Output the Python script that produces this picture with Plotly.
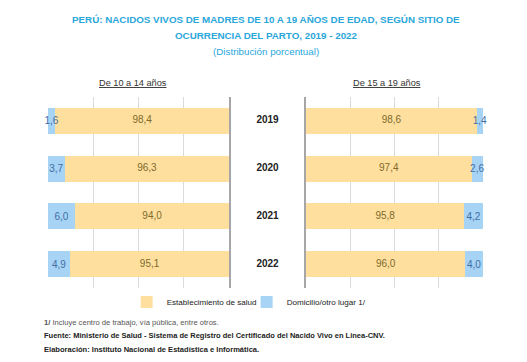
import plotly.graph_objects as go

years = ["2019", "2020", "2021", "2022"]
est_10_14 = [98.4, 96.3, 94.0, 95.1]
dom_10_14 = [1.6, 3.7, 6.0, 4.9]
est_15_19 = [98.6, 97.4, 95.8, 96.0]
dom_15_19 = [1.4, 2.6, 4.2, 4.0]
AXIS_MIN, AXIS_MAX = 60, 100

YEL = "#FFDF9E"
BLU = "#A7D3F4"
YEL_TXT = "#7D6A2C"
BLU_TXT = "#3F6FA6"
FONT = "Liberation Sans, Arial, sans-serif"

def fmt(v):
    return f"{v:.1f}".replace(".", ",")

fig = go.Figure()

def add_panel(est, dom, xa, ya, show):
    fig.add_trace(go.Bar(
        y=years, x=est, orientation="h", name="Establecimiento de salud",
        marker=dict(color=YEL, line=dict(width=0)), xaxis=xa, yaxis=ya,
        showlegend=show, legendgroup="est", hoverinfo="skip"))
    fig.add_trace(go.Bar(
        y=years, x=dom, orientation="h", name="Domicilio/otro lugar 1/",
        marker=dict(color=BLU, line=dict(width=0)), xaxis=xa, yaxis=ya,
        text=[fmt(v) for v in dom], textposition="inside", insidetextanchor="middle",
        textangle=0, textfont=dict(color=BLU_TXT, size=10, family=FONT), constraintext="none",
        showlegend=show, legendgroup="dom", hoverinfo="skip", cliponaxis=False))
    # label of the visible part of the yellow bar (centred between axis start and bar end)
    fig.add_trace(go.Scatter(
        y=years, x=[(AXIS_MIN + v) / 2 for v in est], mode="text",
        text=[fmt(v) for v in est], textposition="middle center",
        textfont=dict(color=YEL_TXT, size=10, family=FONT),
        xaxis=xa, yaxis=ya, showlegend=False, hoverinfo="skip"))

add_panel(est_10_14, dom_10_14, "x", "y", True)
add_panel(est_15_19, dom_15_19, "x2", "y2", False)

# year labels in the central column
fig.add_trace(go.Scatter(
    y=years, x=[0.5] * len(years), mode="text", text=[f"<b>{y}</b>" for y in years],
    textposition="middle center", textfont=dict(color="#222", size=10, family=FONT),
    xaxis="x3", yaxis="y3", showlegend=False, hoverinfo="skip", cliponaxis=False))

W, H = 527, 362
ydom = [1 - 288 / H, 1 - 97 / H]
axis_common = dict(dtick=10, tick0=0, showgrid=True, gridcolor="#DADADA", gridwidth=1,
                   showticklabels=False, zeroline=False, ticks="", fixedrange=True)
yax_common = dict(domain=ydom, type="category", showticklabels=False, ticks="",
                  categoryorder="array", categoryarray=years, range=[3.5, -0.5],
                  showgrid=False, fixedrange=True)
fig.update_layout(
    xaxis=dict(domain=[48 / W, 229 / W], range=[AXIS_MAX, AXIS_MIN], **axis_common),
    xaxis2=dict(domain=[306 / W, 483 / W], range=[AXIS_MIN, AXIS_MAX], **axis_common),
    xaxis3=dict(domain=[229 / W, 306 / W], range=[0, 1], visible=False, fixedrange=True),
    yaxis=dict(anchor="x", side="right", showline=True, linecolor="#A6A6A6", linewidth=1.5, **yax_common),
    yaxis2=dict(anchor="x2", side="left", showline=True, linecolor="#A6A6A6", linewidth=1.5, **yax_common),
    yaxis3=dict(anchor="x3", visible=False, **yax_common),
)

fig.update_layout(
    barmode="stack", bargap=0.46,
    width=W, height=H, margin=dict(l=0, r=0, t=0, b=0),
    paper_bgcolor="white", plot_bgcolor="rgba(0,0,0,0)",
    font=dict(family=FONT, color="#222"),
    legend=dict(orientation="h", x=0.468, xanchor="center", y=1 - 302 / H, yanchor="middle",
                font=dict(size=8.1, color="#222", family=FONT), itemwidth=30, entrywidth=75,
                traceorder="normal", bgcolor="rgba(0,0,0,0)"),
)

ann = []
TITLE_C = "#2AA7DB"
ann.append(dict(x=266 / W, y=1 - 20 / H, text="<b>PERÚ: NACIDOS VIVOS DE MADRES DE 10 A 19 AÑOS DE EDAD, SEGÚN SITIO DE</b>",
                font=dict(size=9.8, color=TITLE_C, family=FONT)))
ann.append(dict(x=266 / W, y=1 - 35 / H, text="<b>OCURRENCIA DEL PARTO, 2019 - 2022</b>",
                font=dict(size=9.8, color=TITLE_C, family=FONT)))
ann.append(dict(x=266 / W, y=1 - 51 / H, text="(Distribución porcentual)",
                font=dict(size=9.8, color=TITLE_C, family=FONT)))
ann.append(dict(x=133 / W, y=1 - 83 / H, text="<u>De 10 a 14 años</u>",
                font=dict(size=9.2, color="#333", family=FONT)))
ann.append(dict(x=387 / W, y=1 - 83 / H, text="<u>De 15 a 19 años</u>",
                font=dict(size=9.2, color="#333", family=FONT)))
ann.append(dict(x=42 / W, y=1 - 322 / H, xanchor="left",
                text="<b>1/</b> Incluye centro de trabajo, vía pública, entre otros.",
                font=dict(size=7.6, color="#555", family=FONT)))
ann.append(dict(x=42 / W, y=1 - 335 / H, xanchor="left",
                text="<b>Fuente: Ministerio de Salud - Sistema de Registro del Certificado del Nacido Vivo en Linea-CNV.</b>",
                font=dict(size=7.5, color="#222", family=FONT)))
ann.append(dict(x=42 / W, y=1 - 349 / H, xanchor="left",
                text="<b>Elaboración: Instituto Nacional de Estadística e Informática.</b>",
                font=dict(size=7.55, color="#222", family=FONT)))
for a in ann:
    a.setdefault("xref", "paper")
    a.setdefault("yref", "paper")
    a.setdefault("xanchor", "center")
    a["yanchor"] = "middle"
    a["showarrow"] = False
fig.update_layout(annotations=ann)

fig.write_html("out.html", config={"displayModeBar": False},
               post_script="document.body.style.margin='0';")
